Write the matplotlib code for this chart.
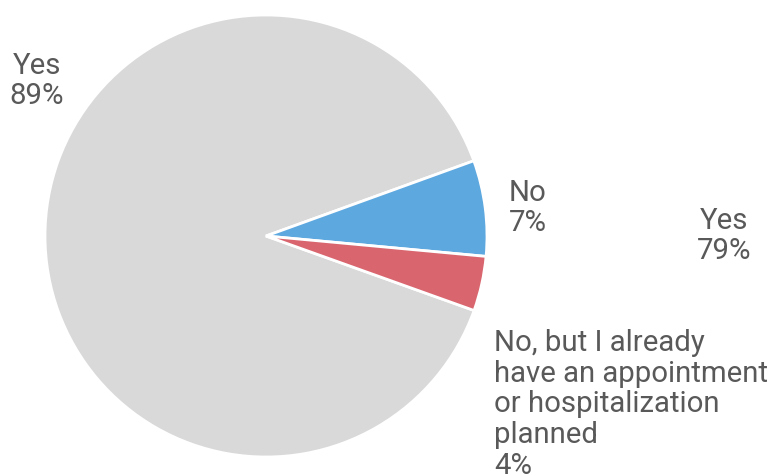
import matplotlib.pyplot as plt

plt.rcParams["font.family"] = ["Roboto", "DejaVu Sans"]

# survey answers, in the order they are drawn (clockwise)
labels = ["Yes", "No", "No, but I already\nhave an appointment\nor hospitalization\nplanned"]
shares = [89, 7, 4]
colors = ["#d9d9d9", "#5ea8e0", "#d9666f"]

# stray label from a second chart that sits in the picture
extra_label = "Yes"
extra_share = 79

W, H = 773, 476
TEXT = "#595959"

fig = plt.figure(figsize=(W / 100, H / 100), dpi=100)
ax = fig.add_axes([45 / W, 1 - 457 / H, 442 / W, 442 / H])
ax.pie(
    shares,
    colors=colors,
    startangle=-19.7,
    counterclock=False,
    radius=1,
    wedgeprops=dict(edgecolor="white", linewidth=2),
)
ax.set_xlim(-1, 1)
ax.set_ylim(-1, 1)
ax.set_aspect("equal")
ax.axis("off")


def px_text(x, y, s, **kw):
    fig.text(x / W, 1 - y / H, s, fontsize=21.2, color=TEXT, linespacing=1.12, **kw)


px_text(37, 81, f"{labels[0]}\n{shares[0]}%", ha="center", va="center")
px_text(509, 208, f"{labels[1]}\n{shares[1]}%", ha="left", va="center")
px_text(494, 329, f"{labels[2]}\n{shares[2]}%", ha="left", va="top")
px_text(724, 236, f"{extra_label}\n{extra_share}%", ha="center", va="center")

fig.savefig("out.png", dpi=100)
